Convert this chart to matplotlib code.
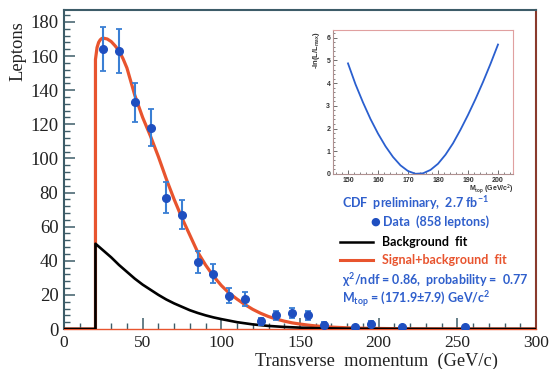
import matplotlib
matplotlib.use("Agg")
import matplotlib.pyplot as plt
from matplotlib.ticker import MultipleLocator

# ---------------- data ----------------
pt_centers = [25, 35, 45, 55, 65, 75, 85, 95, 105, 115, 125, 135, 145, 155, 165, 185, 195, 215, 255]
leptons = [164, 163, 133, 118, 77, 67, 39.5, 32.5, 19.5, 17.5, 4.5, 8, 9.5, 8, 2.5, 1, 3, 1, 1]
lepton_err = [13, 13, 11.5, 11, 9, 8.5, 6.5, 5.8, 4.5, 4.3, 2, 2.8, 3.1, 2.8, 1.6, 1, 1.7, 1, 1]

bg_x = [0, 20, 20, 25, 30, 35, 40, 45, 50, 55, 60, 65, 70, 75, 80, 85, 90, 95, 100,
        110, 120, 130, 140, 150, 160, 180, 200, 250, 300]
bg_y = [0, 0, 50, 46, 42, 37.5, 33.5, 29.5, 26, 23, 20, 17.3, 15, 13, 11, 9.4, 8, 6.8, 5.8,
        4, 2.7, 1.8, 1.2, 0.8, 0.5, 0.2, 0.1, 0, 0]

sb_x = [0, 20, 20, 21, 22, 23, 24, 25, 27.5, 30, 32.5, 35, 37.5, 40, 45, 50, 55, 60, 65, 70,
        75, 80, 85, 90, 95, 100, 105, 110, 115, 120, 125, 130, 135, 140, 145, 150, 155,
        160, 165, 170, 180, 190, 200, 220, 250, 300]
sb_y = [0, 0, 158, 165, 168, 169.5, 170.3, 170.5, 170, 168.5, 166, 163, 158.5, 153, 137,
        124, 113, 101, 88, 76, 65, 55, 45, 37.5, 31, 25.5, 21, 17.5, 14.3, 11.5, 9.2, 7.3,
        5.8, 4.6, 3.6, 2.9, 2.3, 1.8, 1.4, 1.1, 0.7, 0.45, 0.3, 0.1, 0.03, 0]

mtop = [150, 152.5, 155, 157.5, 160, 162.5, 165, 167.5, 170, 172.5, 175, 177.5, 180,
        182.5, 185, 187.5, 190, 192.5, 195, 197.5, 200]
nll = [4.87, 3.95, 3.15, 2.42, 1.78, 1.22, 0.75, 0.38, 0.13, 0.01, 0.03, 0.18, 0.45,
       0.85, 1.35, 1.95, 2.6, 3.3, 4.05, 4.85, 5.7]

x_ticks = [0, 50, 100, 150, 200, 250, 300]
y_ticks = [0, 20, 40, 60, 80, 100, 120, 140, 160, 180]
inset_x_ticks = [150, 160, 170, 180, 190, 200]
inset_y_ticks = [0, 1, 2, 3, 4, 5, 6]

# ---------------- style ----------------
W, H = 549, 369
plt.rcParams['mathtext.fontset'] = 'custom'
plt.rcParams['mathtext.rm'] = 'Lato:bold'
plt.rcParams['mathtext.it'] = 'Lato:bold'
plt.rcParams['mathtext.bf'] = 'Lato:bold'

BLUE_TXT = '#2f5fcc'
RED = '#e8542e'
FRAME = '#3d5c68'

fig = plt.figure(figsize=(W / 100, H / 100), dpi=100)
fig.patch.set_facecolor('white')


def fx(px):
    return px / W


def fy(py):
    return 1 - py / H


ax = fig.add_axes([fx(64), fy(329), fx(472), (329 - 10) / H])
ax.set_xlim(0, 300)
ax.set_ylim(0, 187)

ax.plot(sb_x, sb_y, color=RED, lw=2.3, zorder=3, solid_joinstyle='round')
ax.plot(bg_x, bg_y, color='black', lw=1.9, zorder=4)
ax.errorbar(pt_centers, leptons, yerr=lepton_err, fmt='o', color='#1f4fc0',
            ecolor='#3a7fd4', elinewidth=1.5, capsize=2.0, capthick=1.3, ms=5.5,
            zorder=5)

ax.set_xticks(x_ticks)
ax.set_yticks(y_ticks)
ax.xaxis.set_minor_locator(MultipleLocator(10))
ax.yaxis.set_minor_locator(MultipleLocator(4))
ax.tick_params(which='both', direction='in', colors=FRAME, labelcolor='#222222',
               top=False, right=False)
ax.tick_params(which='major', length=8, width=1.1, pad=4)
ax.tick_params(which='minor', length=4, width=1.0)
ax.tick_params(axis='x', labelsize=12.5)
ax.tick_params(axis='y', labelsize=13.5)
for lbl in ax.get_xticklabels() + ax.get_yticklabels():
    lbl.set_family('Liberation Serif')

ax.spines['left'].set_color(FRAME)
ax.spines['top'].set_color(FRAME)
ax.spines['bottom'].set_color(RED)
ax.spines['right'].set_color('#8a3a2c')
for s in ['left', 'top', 'right']:
    ax.spines[s].set_linewidth(1.5)
ax.spines['bottom'].set_linewidth(1.0)

fig.text(fx(498), fy(361), 'Transverse  momentum  (GeV/c)', ha='right', va='center',
         family='Liberation Serif', size=13.2, color='#222222')
fig.text(fx(18), fy(21), 'Leptons', rotation=90, ha='center', va='top',
         family='Liberation Serif', size=13.3, color='#222222')

# ---------------- legend / text block ----------------
tkw = dict(family=['Lato', 'DejaVu Sans'], weight='bold', size=9, va='center')
fig.text(fx(342), fy(203), 'CDF  preliminary,  2.7 fb$^{-1}$', color=BLUE_TXT, ha='left',
         **tkw)
fig.text(fx(375), fy(222), '\u25CF', color='#1f4fc0', ha='center',
         family='DejaVu Sans', size=8, va='center')
fig.text(fx(383), fy(222), 'Data  (858 leptons)', color=BLUE_TXT, ha='left', **tkw)
fig.add_artist(plt.Line2D([fx(340), fx(373)], [fy(242), fy(242)], color='black', lw=1.8))
fig.text(fx(382), fy(242), 'Background  fit', color='black', ha='left', **tkw)
fig.add_artist(plt.Line2D([fx(340), fx(373)], [fy(260), fy(260)], color=RED, lw=2.2))
fig.text(fx(382), fy(260), 'Signal+background  fit', color=RED, ha='left', **tkw)
fig.text(fx(342), fy(280), '$\\chi^2$/ndf = 0.86,  probability =  0.77', color=BLUE_TXT,
         ha='left', **tkw)
fig.text(fx(342), fy(300), 'M$_{\\mathrm{top}}$ = (171.9\u00b17.9) GeV/c$^2$',
         color=BLUE_TXT, ha='left', **tkw)

# ---------------- inset ----------------
ins = fig.add_axes([fx(333), fy(174), fx(180), 144 / H])
ins.set_xlim(145, 205)
ins.set_ylim(0, 6.34)
ins.plot(mtop, nll, color='#2a5fcf', lw=1.3, solid_joinstyle='round')
ins.set_xticks(inset_x_ticks)
ins.set_yticks(inset_y_ticks)
ins.xaxis.set_minor_locator(MultipleLocator(2))
ins.yaxis.set_minor_locator(MultipleLocator(0.2))
ins.tick_params(which='both', direction='in', colors='#555555', labelcolor='#333333',
                labelsize=5, top=False, right=False)
ins.tick_params(which='major', length=3, width=0.6, pad=2)
ins.tick_params(which='minor', length=1.5, width=0.5)
for lbl in ins.get_xticklabels() + ins.get_yticklabels():
    lbl.set_weight('bold')
    lbl.set_family('Liberation Sans')
for s in ['top', 'right']:
    ins.spines[s].set_color('#e0a0a0')
for s in ['left', 'bottom']:
    ins.spines[s].set_color('#b09090')
for s in ins.spines.values():
    s.set_linewidth(0.8)
fig.text(fx(317), fy(50), '-ln(L/L$_{\\mathrm{max}}$)', rotation=90, ha='center',
         va='center', size=5.5, weight='bold', family='Liberation Sans', color='#333333')
fig.text(fx(514), fy(189), 'M$_{\\mathrm{top}}$ (GeV/c$^2$)', ha='right', va='center',
         size=5, weight='bold', family='Liberation Sans', color='#333333')

fig.savefig('out.png', dpi=100, facecolor='white')
